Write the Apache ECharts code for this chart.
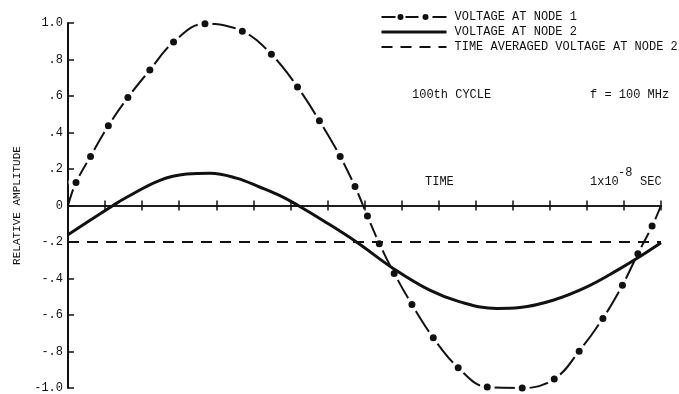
<!DOCTYPE html>
<html>
<head>
<meta charset="utf-8">
<script src="https://cdn.jsdelivr.net/npm/echarts@6/dist/echarts.min.js"></script>
<style>html,body{margin:0;padding:0;background:#fff}#c{width:679px;height:394px}</style>
</head>
<body>
<div id="c"></div>
<script>
// Time in units of 1x10^-8 s
const node1Time = [0, 0.0135, 0.038, 0.068, 0.101, 0.138, 0.178, 0.231, 0.294, 0.343, 0.387, 0.424, 0.459, 0.484, 0.505, 0.525, 0.550, 0.580, 0.616, 0.658, 0.707, 0.766, 0.820, 0.862, 0.902, 0.935, 0.961, 0.985, 1.0];
const node1Volt = [0, 0.126, 0.269, 0.437, 0.592, 0.742, 0.896, 0.996, 0.955, 0.829, 0.650, 0.464, 0.269, 0.104, -0.058, -0.209, -0.372, -0.543, -0.725, -0.889, -0.995, -1.0, -0.951, -0.798, -0.619, -0.437, -0.264, -0.113, 0];
const node2Time = [0, 0.076, 0.099, 0.155, 0.200, 0.240, 0.284, 0.324, 0.360, 0.388, 0.430, 0.487, 0.549, 0.610, 0.661, 0.723, 0.762, 0.818, 0.875, 0.931, 0.959, 1.0];
const node2Volt = [-0.160, 0, 0.045, 0.138, 0.172, 0.177, 0.150, 0.100, 0.050, 0, -0.082, -0.201, -0.346, -0.464, -0.528, -0.564, -0.559, -0.519, -0.446, -0.346, -0.291, -0.204];
const avgTime = [0, 1.0];
const avgVolt = [-0.2, -0.2];
const yTickLabels = ['-1.0', '-.8', '-.6', '-.4', '-.2', '0', '.2', '.4', '.6', '.8', '1.0'];
const seriesNames = ['VOLTAGE AT NODE 1', 'VOLTAGE AT NODE 2', 'TIME AVERAGED VOLTAGE AT NODE 2'];

const FONT = 'Liberation Mono';
const INK = '#111';

function pairs(ts, vs) { return ts.map((t, i) => [t, vs[i]]); }
const node1Data = pairs(node1Time, node1Volt).map((p, i, a) =>
  (i === 0 || i === a.length - 1) ? { value: p, symbol: 'none' } : { value: p });

const chart = echarts.init(document.getElementById('c'), null, { renderer: 'canvas' });
const tickStyle = { show: true, inside: false, length: 5, lineStyle: { color: INK, width: 1.5 } };
const hiddenIcon = { color: 'rgba(0,0,0,0)', borderColor: 'rgba(0,0,0,0)', borderWidth: 0 };
const dashDotIcon = 'path://M0,2H14V4H0Z M24,2H37V4H24Z M51,2H65V4H51Z M16,3A3,3,0,1,0,22,3A3,3,0,1,0,16,3Z M41,3A3,3,0,1,0,47,3A3,3,0,1,0,41,3Z';
chart.setOption({
  animation: false,
  backgroundColor: '#fff',
  grid: { left: 68, right: 18, top: 23, bottom: 5, containLabel: false },
  legend: {
    orient: 'vertical', left: 380, top: 11, padding: 0,
    itemWidth: 65, itemHeight: 6, itemGap: 3,
    textStyle: { fontFamily: FONT, fontSize: 12, color: INK, padding: [0, 0, 0, 3] },
    data: [
      { name: seriesNames[0], icon: dashDotIcon, itemStyle: { color: INK, borderWidth: 0 } },
      { name: seriesNames[1], itemStyle: hiddenIcon, lineStyle: { width: 3 } },
      { name: seriesNames[2], itemStyle: hiddenIcon, lineStyle: { width: 2 } }
    ]
  },
  xAxis: [
    {
      type: 'value', min: 0, max: 1, interval: 0.0625, position: 'bottom',
      axisLine: { onZero: true, onZeroAxisIndex: 0, lineStyle: { color: INK, width: 1.5 } },
      axisTick: tickStyle, axisLabel: { show: false }, splitLine: { show: false }, z: 5
    },
    {
      type: 'value', min: 0, max: 1, interval: 0.0625, position: 'top',
      axisLine: { onZero: true, onZeroAxisIndex: 1, lineStyle: { color: INK, width: 1.5 } },
      axisTick: tickStyle, axisLabel: { show: false }, splitLine: { show: false }, z: 5
    }
  ],
  yAxis: [
    {
      type: 'value', min: -1, max: 1, interval: 0.2,
      position: 'left',
      axisLine: { show: true, onZero: false, lineStyle: { color: INK, width: 2 } },
      axisTick: { show: true, inside: true, length: 6, lineStyle: { color: INK, width: 1.5 } },
      axisLabel: {
        margin: 5, fontFamily: FONT, fontSize: 12, color: INK,
        formatter: v => yTickLabels[Math.round((v + 1) / 0.2)]
      },
      splitLine: { show: false },
      name: 'RELATIVE AMPLITUDE', nameLocation: 'middle', nameRotate: 90, nameGap: 45,
      nameTextStyle: { fontFamily: FONT, fontSize: 11, color: INK }
    },
    {
      type: 'value', min: -1, max: 1, interval: 0.2, position: 'right',
      axisLine: { show: false, onZero: false }, axisTick: { show: false },
      axisLabel: { show: false }, splitLine: { show: false }
    }
  ],
  series: [
    {
      name: seriesNames[0], type: 'line', xAxisIndex: 0, yAxisIndex: 0, data: node1Data,
      smooth: 0.4, z: 1,
      symbol: 'circle', symbolSize: 11, showSymbol: true,
      itemStyle: { color: INK, borderColor: '#fff', borderWidth: 4 },
      lineStyle: { color: INK, width: 2 }
    },
    {
      name: seriesNames[1], type: 'line', xAxisIndex: 0, yAxisIndex: 0, data: pairs(node2Time, node2Volt),
      smooth: 0.4, z: 3, symbol: 'none',
      itemStyle: { color: INK },
      lineStyle: { color: INK, width: 3 }
    },
    {
      name: seriesNames[2], type: 'line', xAxisIndex: 0, yAxisIndex: 0, data: pairs(avgTime, avgVolt),
      z: 3, symbol: 'none',
      itemStyle: { color: INK },
      lineStyle: { color: INK, width: 2, type: [11, 8] }
    }
  ],
  graphic: [
    { type: 'text', left: 412, top: 89, style: { text: '100th CYCLE', font: '12px "Liberation Mono"', fill: INK } },
    { type: 'text', left: 590, top: 89, style: { text: 'f = 100 MHz', font: '12px "Liberation Mono"', fill: INK } },
    { type: 'text', left: 425, top: 176, style: { text: 'TIME', font: '12px "Liberation Mono"', fill: INK } },
    { type: 'text', left: 590, top: 176, style: { text: '1x10', font: '12px "Liberation Mono"', fill: INK } },
    { type: 'text', left: 618, top: 167, style: { text: '-8', font: '12px "Liberation Mono"', fill: INK } },
    { type: 'text', left: 640, top: 176, style: { text: 'SEC', font: '12px "Liberation Mono"', fill: INK } }
  ]
});
</script>
</body>
</html>
